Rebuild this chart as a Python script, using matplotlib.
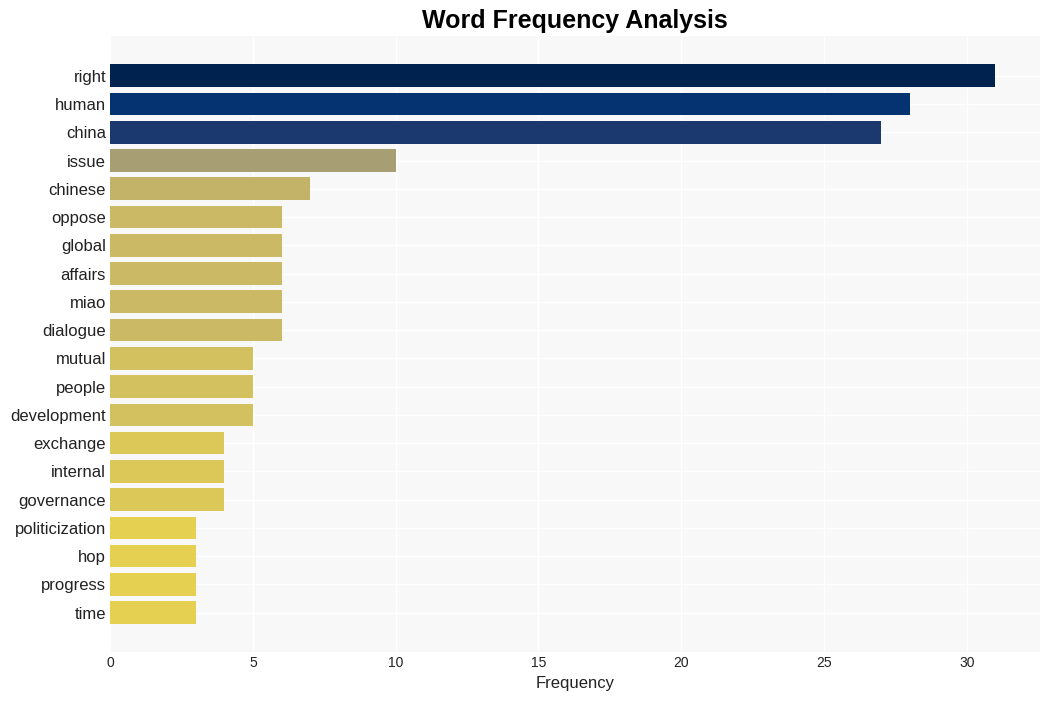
import matplotlib
matplotlib.use("Agg")
import matplotlib.pyplot as plt
from matplotlib import cm
from matplotlib.colors import Normalize

plt.rcParams['font.family'] = ['Liberation Sans', 'DejaVu Sans']

words = ["right", "human", "china", "issue", "chinese", "oppose", "global", "affairs",
         "miao", "dialogue", "mutual", "people", "development", "exchange", "internal",
         "governance", "politicization", "hop", "progress", "time"]
counts = [31, 28, 27, 10, 7, 6, 6, 6, 6, 6, 5, 5, 5, 4, 4, 4, 3, 3, 3, 3]

norm = Normalize(vmin=0, vmax=max(counts))
colors = [cm.cividis_r(norm(c)) for c in counts]

fig, ax = plt.subplots(figsize=(10.5, 7.01), dpi=100)
ax.set_facecolor("#f8f8f8")
ax.barh(words, counts, color=colors, height=0.8, zorder=2)
ax.invert_yaxis()
ax.grid(True, color="white", linewidth=1, zorder=0)
for s in ax.spines.values():
    s.set_visible(False)
ax.tick_params(axis="both", length=0)
ax.tick_params(axis="y", labelsize=12, colors="#222222", pad=3)
ax.tick_params(axis="x", labelsize=10, colors="#222222", pad=3)
ax.set_xlabel("Frequency", fontsize=12, color="#222222", labelpad=4)
ax.set_title("Word Frequency Analysis", fontsize=18, fontweight="bold", pad=6)
fig.subplots_adjust(left=0.105, right=0.99, top=0.948, bottom=0.07)
fig.savefig("out.png", dpi=100)
